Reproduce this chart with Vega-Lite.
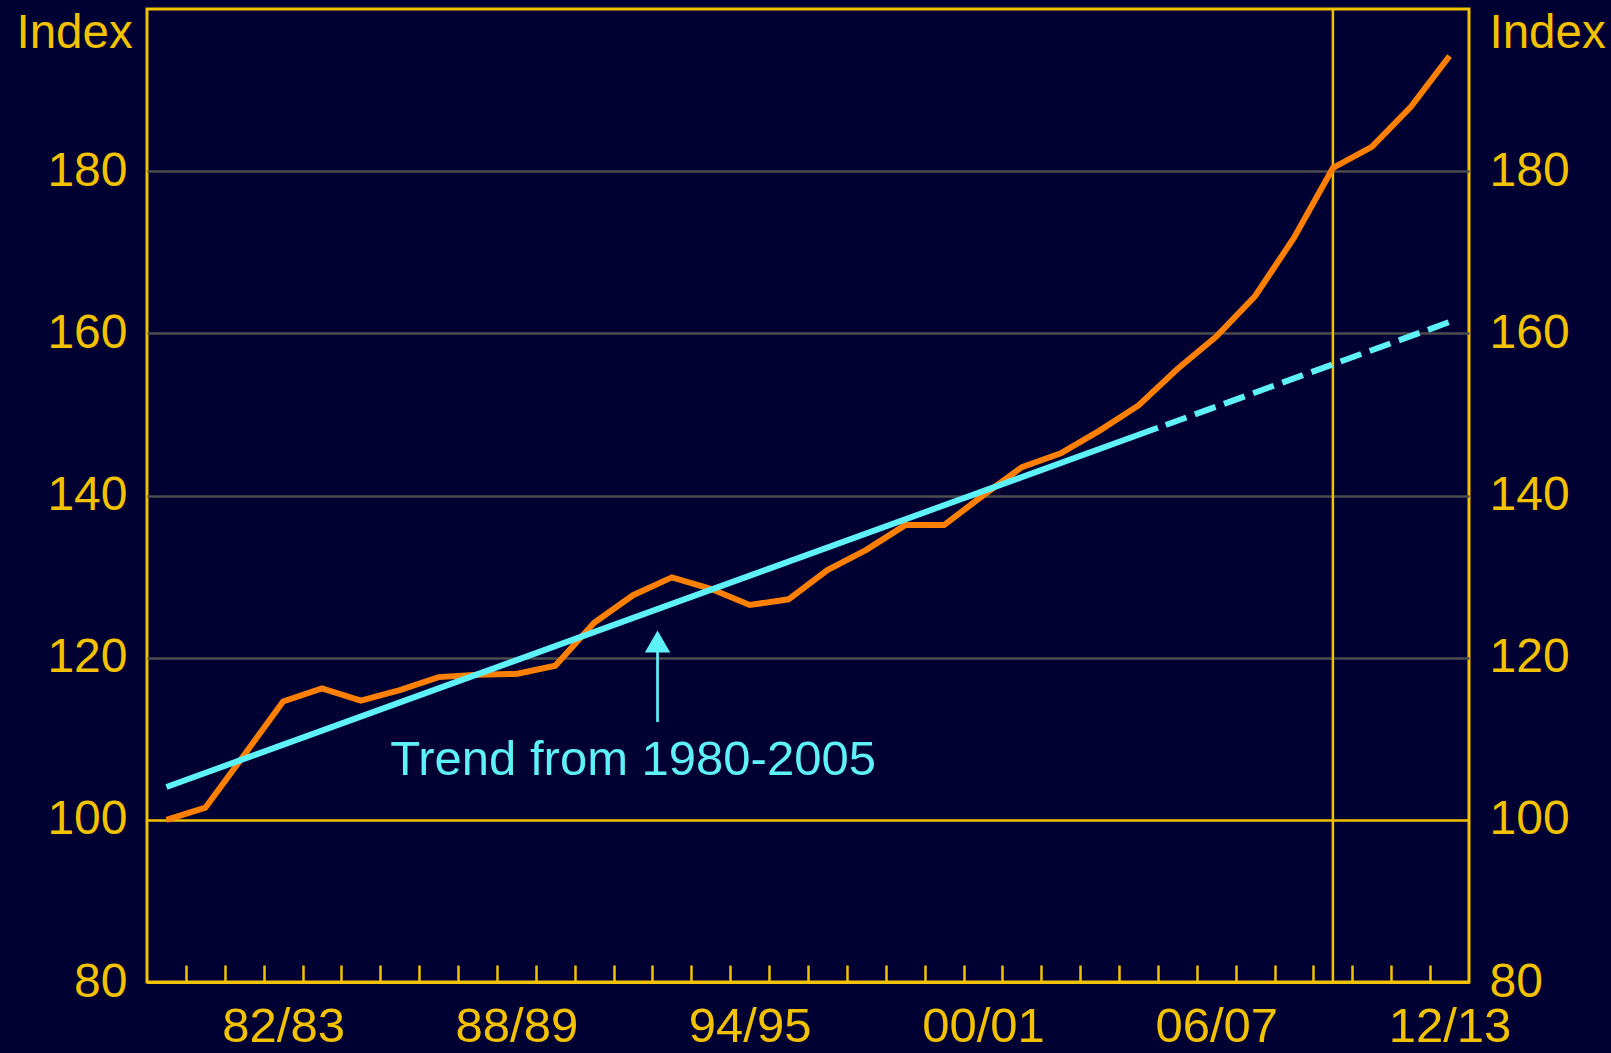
{
  "$schema": "https://vega.github.io/schema/vega-lite/v6.json",
  "width": 1322,
  "height": 973,
  "autosize": {"type": "none"},
  "padding": {"left": 147, "top": 9, "right": 142, "bottom": 71},
  "background": "#000033",
  "config": {
    "view": {"stroke": "#F2C200", "strokeWidth": 3},
    "font": "Liberation Sans"
  },
  "datasets": {
    "idx": [
      {"year": 1979, "value": 100.0},
      {"year": 1980, "value": 101.5},
      {"year": 1981, "value": 108.0},
      {"year": 1982, "value": 114.6},
      {"year": 1983, "value": 116.2},
      {"year": 1984, "value": 114.7},
      {"year": 1985, "value": 116.0},
      {"year": 1986, "value": 117.6},
      {"year": 1987, "value": 117.9},
      {"year": 1988, "value": 118.0},
      {"year": 1989, "value": 119.0},
      {"year": 1990, "value": 124.3},
      {"year": 1991, "value": 127.7},
      {"year": 1992, "value": 129.9},
      {"year": 1993, "value": 128.5},
      {"year": 1994, "value": 126.5},
      {"year": 1995, "value": 127.2},
      {"year": 1996, "value": 130.8},
      {"year": 1997, "value": 133.3},
      {"year": 1998, "value": 136.35},
      {"year": 1999, "value": 136.35},
      {"year": 2000, "value": 140.0},
      {"year": 2001, "value": 143.5},
      {"year": 2002, "value": 145.2},
      {"year": 2003, "value": 148.0},
      {"year": 2004, "value": 151.1},
      {"year": 2005, "value": 155.6},
      {"year": 2006, "value": 159.6},
      {"year": 2007, "value": 164.6},
      {"year": 2008, "value": 171.8},
      {"year": 2009, "value": 180.4},
      {"year": 2010, "value": 183.0},
      {"year": 2011, "value": 187.9},
      {"year": 2012, "value": 194.2}
    ],
    "trend": [
      {"year": 1979, "value": 104.05, "seg": "solid"},
      {"year": 2004.5, "value": 148.35, "seg": "solid"},
      {"year": 2004.7, "value": 148.7, "seg": "dashed"},
      {"year": 2012, "value": 161.4, "seg": "dashed"}
    ],
    "arrow": [
      {"year": 1991.63, "value": 112.06, "value2": 121.5}
    ],
    "arrowhead": [
      {"year": 1991.63, "value": 122.0}
    ],
    "label": [
      {"year": 1991.0, "value": 105.5, "text": "Trend from 1980-2005"}
    ],
    "marker": [
      {"year": 2009}
    ]
  },
  "resolve": {"scale": {"y": "shared"}, "axis": {"y": "independent"}},
  "encoding": {
    "x": {
      "field": "year", "type": "quantitative",
      "scale": {"domain": [1978.5, 2012.5], "nice": false, "zero": false},
      "axis": {
        "orient": "bottom",
        "title": null,
        "grid": false,
        "values": [1979.5, 1980.5, 1981.5, 1982.5, 1983.5, 1984.5, 1985.5, 1986.5, 1987.5, 1988.5, 1989.5, 1990.5, 1991.5, 1992.5, 1993.5, 1994.5, 1995.5, 1996.5, 1997.5, 1998.5, 1999.5, 2000.5, 2001.5, 2002.5, 2003.5, 2004.5, 2005.5, 2006.5, 2007.5, 2008.5, 2009.5, 2010.5, 2011.5],
        "tickSize": -17,
        "tickColor": "#F2C200",
        "tickWidth": 2.5,
        "domainColor": "#F2C200",
        "domainWidth": 3,
        "labelExpr": "(datum.value - 1981.5) % 6 === 0 ? format((datum.value + 0.5) % 100, '02d') + '/' + format((datum.value + 1.5) % 100, '02d') : ''",
        "labelOffset": 19.44,
        "labelFontSize": 49,
        "labelFont": "Liberation Sans",
        "labelColor": "#F2C200",
        "labelBaseline": "alphabetic",
        "labelPadding": 76,
        "labelOverlap": false,
        "labelFlush": false,
        "labelBound": false
      }
    }
  },
  "layer": [
    {
      "data": {"name": "marker"},
      "mark": {"type": "rule", "color": "#F2C200", "strokeWidth": 2.5}
    },
    {
      "data": {"name": "idx"},
      "mark": {"type": "line", "color": "#FF7F00", "strokeWidth": 6},
      "encoding": {
        "y": {
          "field": "value", "type": "quantitative",
          "scale": {"domain": [80, 200], "nice": false, "zero": false},
          "axis": {
            "orient": "left",
            "values": [80, 100, 120, 140, 160, 180],
            "grid": true,
            "gridColor": {"condition": {"test": "datum.value === 100 || datum.value === 80", "value": "#F2C200"}, "value": "#4d4d4d"},
            "gridWidth": 2.5,
            "ticks": false,
            "domain": false,
            "labelFontSize": 48,
            "labelFont": "Liberation Sans",
            "labelColor": "#F2C200",
            "labelPadding": 20,
            "labelBaseline": "middle",
            "title": "Index",
            "titleAngle": 0,
            "titleAlign": "left",
            "titleBaseline": "alphabetic",
            "titleX": -131,
            "titleY": 38,
            "titleFontSize": 47.5,
            "titleFontWeight": "normal",
            "titleFont": "Liberation Sans",
            "titleColor": "#F2C200"
          }
        }
      }
    },
    {
      "data": {"name": "trend"},
      "transform": [{"filter": "datum.seg === 'solid'"}],
      "mark": {"type": "line", "color": "#5EF2F8", "strokeWidth": 6},
      "encoding": {
        "y": {
          "field": "value", "type": "quantitative",
          "axis": {
            "orient": "right",
            "values": [80, 100, 120, 140, 160, 180],
            "grid": false,
            "ticks": false,
            "domain": false,
            "labelFontSize": 48,
            "labelFont": "Liberation Sans",
            "labelColor": "#F2C200",
            "labelPadding": 20,
            "labelBaseline": "middle",
            "title": "Index",
            "titleAngle": 0,
            "titleAlign": "left",
            "titleBaseline": "alphabetic",
            "titleX": 20,
            "titleY": 38,
            "titleFontSize": 47.5,
            "titleFontWeight": "normal",
            "titleFont": "Liberation Sans",
            "titleColor": "#F2C200"
          }
        }
      }
    },
    {
      "data": {"name": "trend"},
      "transform": [{"filter": "datum.seg === 'dashed'"}],
      "mark": {"type": "line", "color": "#5EF2F8", "strokeWidth": 6, "strokeDash": [22, 9]},
      "encoding": {
        "y": {"field": "value", "type": "quantitative", "axis": null}
      }
    },
    {
      "data": {"name": "arrow"},
      "mark": {"type": "rule", "color": "#5EF2F8", "strokeWidth": 2.7},
      "encoding": {
        "y": {"field": "value", "type": "quantitative", "axis": null},
        "y2": {"field": "value2"}
      }
    },
    {
      "data": {"name": "arrowhead"},
      "mark": {"type": "point", "shape": "triangle-up", "filled": true, "color": "#5EF2F8", "size": 650, "opacity": 1},
      "encoding": {
        "y": {"field": "value", "type": "quantitative", "axis": null}
      }
    },
    {
      "data": {"name": "label"},
      "mark": {"type": "text", "color": "#5EF2F8", "fontSize": 49, "font": "Liberation Sans", "align": "center", "baseline": "alphabetic"},
      "encoding": {
        "y": {"field": "value", "type": "quantitative", "axis": null},
        "text": {"field": "text"}
      }
    }
  ]
}
